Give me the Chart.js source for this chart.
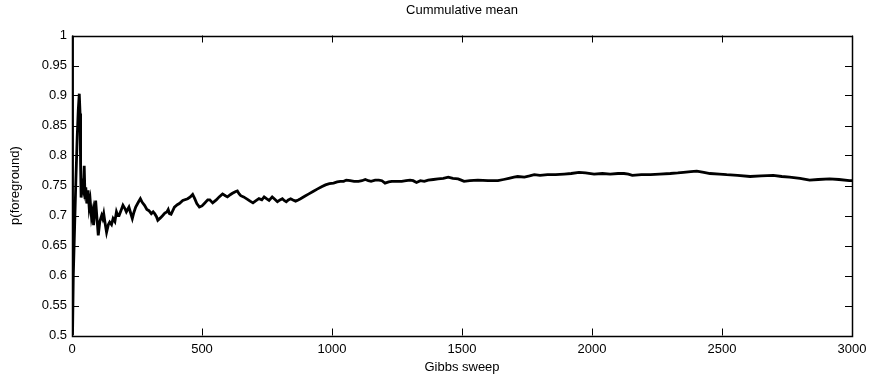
<!DOCTYPE html>
<html>
<head>
<meta charset="utf-8">
<script src="https://cdn.jsdelivr.net/npm/chart.js@4/dist/chart.umd.min.js"></script>
<style>
html,body{margin:0;padding:0;background:#fff;}
#wrap{width:875px;height:379px;position:relative;}
</style>
</head>
<body>
<div id="wrap"><canvas id="c" width="875" height="379"></canvas></div>
<script>
const sweeps = [1,2,5,10,15,20,24,28,31,33,35,40,44,47,50,53,57,62,66,70,75,80,83,91,97,101,107,114,118,122,127,133,140,145,152,158,165,171,176,181,190,196,203,209,214,219,225,232,238,245,255,263,270,279,288,296,305,312,318,325,330,340,349,357,365,370,375,381,394,405,413,426,445,455,464,472,480,490,500,509,522,530,541,555,566,579,590,598,610,617,630,636,643,649,660,675,685,696,705,719,730,739,748,758,770,780,790,800,809,816,824,832,841,850,860,870,879,895,911,927,943,960,975,990,1006,1020,1032,1045,1055,1070,1085,1102,1115,1128,1140,1150,1166,1180,1192,1204,1218,1230,1250,1268,1285,1300,1312,1325,1340,1355,1370,1390,1408,1428,1447,1465,1485,1497,1508,1530,1561,1600,1638,1660,1680,1700,1714,1740,1760,1778,1800,1829,1860,1893,1920,1950,1975,2008,2040,2070,2100,2123,2140,2155,2190,2225,2260,2301,2330,2352,2380,2403,2430,2454,2490,2518,2560,2608,2650,2697,2730,2760,2800,2837,2870,2914,2950,2990,3000];
const cumMean = [1.0,0.5,0.6,0.68,0.76,0.83,0.875,0.903,0.87,0.786,0.73,0.75,0.742,0.783,0.73,0.747,0.72,0.742,0.714,0.725,0.697,0.708,0.684,0.725,0.69,0.667,0.69,0.700,0.695,0.703,0.688,0.672,0.685,0.689,0.685,0.695,0.69,0.706,0.70,0.700,0.71,0.717,0.712,0.706,0.71,0.714,0.705,0.695,0.705,0.714,0.722,0.728,0.722,0.717,0.71,0.708,0.703,0.706,0.703,0.698,0.692,0.696,0.700,0.704,0.706,0.710,0.703,0.702,0.714,0.718,0.720,0.725,0.728,0.731,0.735,0.728,0.72,0.714,0.716,0.720,0.726,0.726,0.721,0.726,0.731,0.736,0.733,0.731,0.735,0.737,0.740,0.741,0.736,0.733,0.731,0.727,0.724,0.721,0.724,0.728,0.726,0.731,0.728,0.725,0.731,0.727,0.723,0.726,0.728,0.725,0.723,0.726,0.728,0.726,0.724,0.726,0.728,0.732,0.736,0.740,0.744,0.748,0.751,0.753,0.754,0.756,0.757,0.757,0.759,0.758,0.757,0.757,0.758,0.760,0.758,0.757,0.759,0.759,0.758,0.754,0.756,0.757,0.757,0.757,0.758,0.759,0.758,0.755,0.758,0.757,0.759,0.760,0.761,0.762,0.764,0.762,0.761,0.759,0.757,0.758,0.759,0.758,0.758,0.760,0.762,0.764,0.765,0.764,0.766,0.768,0.767,0.768,0.768,0.769,0.770,0.772,0.771,0.769,0.770,0.769,0.770,0.770,0.769,0.767,0.768,0.768,0.769,0.770,0.771,0.772,0.773,0.774,0.772,0.770,0.769,0.768,0.767,0.765,0.766,0.767,0.765,0.764,0.762,0.759,0.760,0.761,0.760,0.758,0.758];
const xTicks = [0,500,1000,1500,2000,2500,3000];
const xTickLabels = ['0','500','1000','1500','2000','2500','3000'];
const yTicks = [0.5,0.55,0.6,0.65,0.7,0.75,0.8,0.85,0.9,0.95,1];
const yTickLabels = ['0.5','0.55','0.6','0.65','0.7','0.75','0.8','0.85','0.9','0.95','1'];
const chartTitle = 'Cummulative mean';
const xTitle = 'Gibbs sweep';
const yTitle = 'p(foreground)';

const FONT = "'Liberation Sans', Arial, Helvetica, sans-serif";
const points = sweeps.map((s, i) => ({x: s, y: cumMean[i]}));

const boxTicks = {
  id: 'boxTicks',
  afterDraw(chart) {
    const {ctx, chartArea: a} = chart;
    const xs = chart.scales.x, ys = chart.scales.y;
    const L = 7;
    ctx.save();
    ctx.strokeStyle = '#000';
    ctx.lineWidth = 1;
    ctx.beginPath();
    xTicks.forEach(v => {
      const p = Math.round(xs.getPixelForValue(v)) + 0.5;
      ctx.moveTo(p, a.bottom); ctx.lineTo(p, a.bottom - L);
      ctx.moveTo(p, a.top); ctx.lineTo(p, a.top + L);
    });
    yTicks.forEach(v => {
      const p = Math.round(ys.getPixelForValue(v)) + 0.5;
      ctx.moveTo(a.left, p); ctx.lineTo(a.left + L, p);
      ctx.moveTo(a.right, p); ctx.lineTo(a.right - L, p);
    });
    ctx.stroke();
    ctx.lineWidth = 1.5;
    ctx.strokeRect(Math.round(a.left)+0.5, Math.round(a.top)+0.5, Math.round(a.right-a.left), Math.round(a.bottom-a.top));
    ctx.restore();
  }
};

new Chart(document.getElementById('c'), {
  type: 'line',
  data: {
    datasets: [{
      data: points,
      borderColor: '#000',
      borderWidth: 2.8,
      pointRadius: 0,
      tension: 0,
      fill: false
    }]
  },
  options: {
    responsive: false,
    animation: false,
    devicePixelRatio: 1,
    layout: {padding: {left: 0, right: 23, top: 0, bottom: 0}},
    plugins: {
      legend: {display: false},
      tooltip: {enabled: false},
      title: {
        display: true,
        text: chartTitle,
        fullSize: false,
        color: '#000',
        font: {family: FONT, size: 13, weight: 'normal', lineHeight: 1.2},
        padding: {top: 3, bottom: 16.9}
      }
    },
    scales: {
      x: {
        type: 'linear',
        min: 0, max: 3000,
        afterFit(s) { s.height = 43.5; },
        afterBuildTicks(s) { s.ticks = xTicks.map(v => ({value: v})); },
        grid: {display: false, drawTicks: false},
        border: {display: false},
        ticks: {
          color: '#000', padding: 6,
          font: {family: FONT, size: 13},
          maxRotation: 0, autoSkip: false,
          callback: (v) => xTickLabels[xTicks.indexOf(v)]
        },
        title: {display: true, text: xTitle, color: '#000', font: {family: FONT, size: 13}, padding: {top: 0, bottom: 4}}
      },
      y: {
        type: 'linear',
        min: 0.5, max: 1,
        afterFit(s) { s.width = 72; },
        afterBuildTicks(s) { s.ticks = yTicks.map(v => ({value: v})); },
        grid: {display: false, drawTicks: false},
        border: {display: false},
        ticks: {
          color: '#000', padding: 5,
          font: {family: FONT, size: 13},
          autoSkip: false,
          callback: (v) => { const i = yTicks.findIndex(t => Math.abs(t - v) < 1e-9); return i >= 0 ? yTickLabels[i] : ''; }
        },
        title: {display: true, text: yTitle, color: '#000', font: {family: FONT, size: 13}, padding: {top: 8, bottom: 0}}
      }
    }
  },
  plugins: [boxTicks]
});
</script>
</body>
</html>
